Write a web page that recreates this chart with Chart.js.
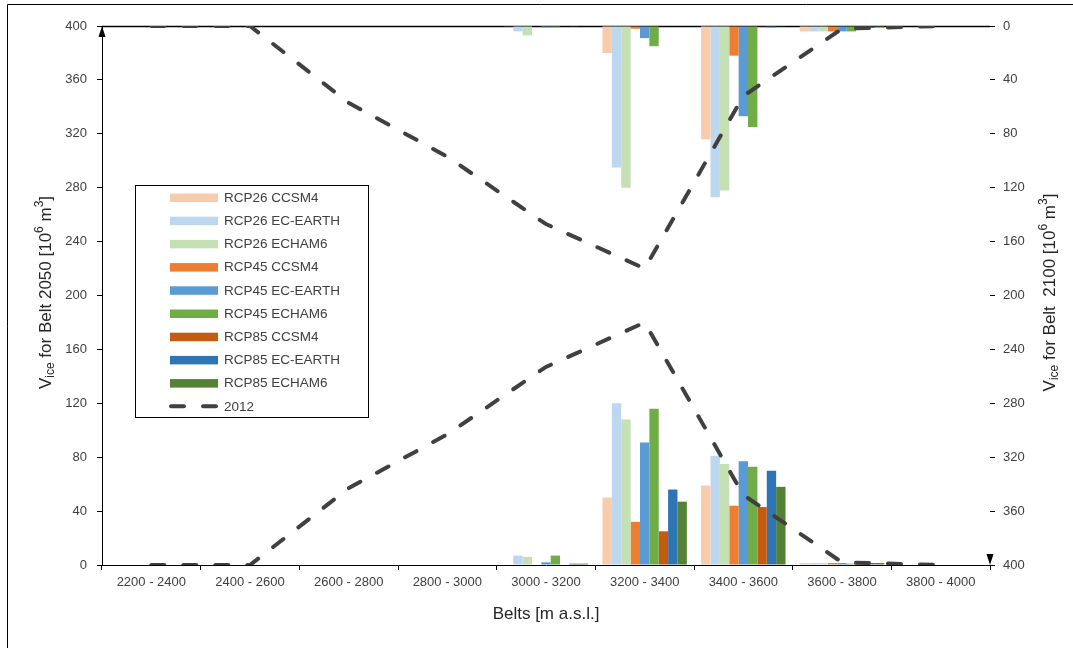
<!DOCTYPE html>
<html><head><meta charset="utf-8">
<script src="https://cdn.jsdelivr.net/npm/chart.js@4.4.1/dist/chart.umd.min.js"></script>
<style>html,body{margin:0;padding:0;background:#fff;}#wrap{width:1073px;height:648px;}</style>
</head><body><div id="wrap"><canvas id="c" width="1073" height="648"></canvas></div>
<script>
// ---- data ----
const belts = ['2200 - 2400','2400 - 2600','2600 - 2800','2800 - 3000','3000 - 3200','3200 - 3400','3400 - 3600','3600 - 3800','3800 - 4000'];
const seriesNames = ['RCP26 CCSM4','RCP26 EC-EARTH','RCP26 ECHAM6','RCP45 CCSM4','RCP45 EC-EARTH','RCP45 ECHAM6','RCP85 CCSM4','RCP85 EC-EARTH','RCP85 ECHAM6'];
const seriesColors = ['#F8CBAD','#BDD7EE','#C5E0B4','#ED7D31','#5B9BD5','#70AD47','#C55A11','#2E75B6','#548235'];

// 2050 volumes (left axis)
const rcp26Ccsm4_2050   = [0,0,0,0,0,50,59,1.5,0];
const rcp26EcEarth_2050 = [0,0,0,0,7,120,81,1.5,0];
const rcp26Echam6_2050  = [0,0,0,0,6,108,75,1.5,0];
const rcp45Ccsm4_2050   = [0,0,0,0,0,32,44,1.5,0];
const rcp45EcEarth_2050 = [0,0,0,0,2,91,77,1.5,0];
const rcp45Echam6_2050  = [0,0,0,0,7,116,73,1,0];
const rcp85Ccsm4_2050   = [0,0,0,0,0,25,43,1,0];
const rcp85EcEarth_2050 = [0,0,0,0,1,56,70,1.5,0];
const rcp85Echam6_2050  = [0,0,0,0,1,47,58,1.5,0];

// 2100 volumes (right, reversed axis)
const rcp26Ccsm4_2100   = [0,0,0,0,0.5,20,84,4,0];
const rcp26EcEarth_2100 = [0,0,0,0,4,105,127,4,0];
const rcp26Echam6_2100  = [0,0,0,0,7,120,122,4,0];
const rcp45Ccsm4_2100   = [0,0,0,0,0,2,22,4,0];
const rcp45EcEarth_2100 = [0,0,0,0,1,9,67,4,0];
const rcp45Echam6_2100  = [0,0,0,0,1,15,75,4,0];
const rcp85Ccsm4_2100   = [0,0,0,0,0,0,0.5,1,0];
const rcp85EcEarth_2100 = [0,0,0,0,0.5,0,1,1.5,0];
const rcp85Echam6_2100  = [0,0,0,0,0,0,0.5,1,0];

// 2012 reference volume
const ice2012 = [0,0,57,97,147,180,52,2,0];

const yMin = 0, yMax = 400, yStep = 40;

// ---- build ----
const v2050 = [rcp26Ccsm4_2050,rcp26EcEarth_2050,rcp26Echam6_2050,rcp45Ccsm4_2050,rcp45EcEarth_2050,rcp45Echam6_2050,rcp85Ccsm4_2050,rcp85EcEarth_2050,rcp85Echam6_2050];
const v2100 = [rcp26Ccsm4_2100,rcp26EcEarth_2100,rcp26Echam6_2100,rcp45Ccsm4_2100,rcp45EcEarth_2100,rcp45Echam6_2100,rcp85Ccsm4_2100,rcp85EcEarth_2100,rcp85Echam6_2100];

const FONT = 'Liberation Sans, Arial, sans-serif';
const TXT = '#404040';
const LINE_COLOR = '#404040';

const datasets = [];
seriesNames.forEach((n,i)=>{
  datasets.push({type:'bar', label:n+' 2050', data:v2050[i], backgroundColor:seriesColors[i], yAxisID:'y', stack:'s'+i,
    categoryPercentage:0.855, barPercentage:1.0, borderWidth:0, order:1});
});
seriesNames.forEach((n,i)=>{
  datasets.push({type:'bar', label:n+' 2100', data:v2100[i], backgroundColor:seriesColors[i], yAxisID:'y2', stack:'s'+i,
    categoryPercentage:0.855, barPercentage:1.0, borderWidth:0, order:1});
});
const lineStyle = {type:'line', borderColor:LINE_COLOR, borderWidth:4, borderDash:[13,19], borderCapStyle:'round',
  pointRadius:0, fill:false, tension:0, order:0};
datasets.push(Object.assign({label:'2012', data:ice2012, yAxisID:'y'}, lineStyle));
datasets.push(Object.assign({label:'2012 (2100 axis)', data:ice2012, yAxisID:'y2'}, lineStyle));

function richText(ctx, parts, cx, cy, rot){
  const base = 17, small = 12;
  ctx.save();
  ctx.translate(cx, cy);
  ctx.rotate(rot);
  let total = 0;
  const w = parts.map(p=>{ctx.font = (p[1]==='n'?base:small)+'px '+FONT; const m = ctx.measureText(p[0]).width; total+=m; return m;});
  let x = -total/2;
  ctx.textBaseline = 'middle';
  ctx.textAlign = 'left';
  ctx.fillStyle = '#262626';
  parts.forEach((p,i)=>{
    ctx.font = (p[1]==='n'?base:small)+'px '+FONT;
    const dy = p[1]==='sub'?5:(p[1]==='sup'?-6:0);
    ctx.fillText(p[0], x, dy);
    x += w[i];
  });
  ctx.restore();
}

const decor = {
  id:'decor',
  beforeDatasetsDraw(chart){
    const {ctx, chartArea:a} = chart;
    ctx.save();
    ctx.strokeStyle = '#000'; ctx.lineWidth = 1.5;
    ctx.beginPath(); ctx.moveTo(a.left, a.top+0.5); ctx.lineTo(a.right, a.top+0.5); ctx.stroke();
    ctx.restore();
  },
  afterDraw(chart){
    const {ctx, chartArea:a} = chart;
    ctx.save();
    ctx.strokeStyle = '#000'; ctx.lineWidth = 1;
    ctx.beginPath(); ctx.moveTo(7.5, 648); ctx.lineTo(7.5, 4.5); ctx.lineTo(1073, 4.5); ctx.stroke();
    ctx.fillStyle = '#000';
    ctx.beginPath(); ctx.moveTo(a.left, a.top); ctx.lineTo(a.left-3.5, a.top+11); ctx.lineTo(a.left+3.5, a.top+11); ctx.closePath(); ctx.fill();
    ctx.beginPath(); ctx.moveTo(a.right, a.bottom); ctx.lineTo(a.right-3.5, a.bottom-11); ctx.lineTo(a.right+3.5, a.bottom-11); ctx.closePath(); ctx.fill();
    const cy = (a.top+a.bottom)/2 - 3;
    richText(ctx, [['V','n'],['ice','sub'],[' for Belt 2050 [10','n'],['6','sup'],[' m','n'],['3','sup'],[']','n']], 46, cy, -Math.PI/2);
    richText(ctx, [['V','n'],['ice','sub'],[' for Belt  2100 [10','n'],['6','sup'],[' m','n'],['3','sup'],[']','n']], 1050, cy, -Math.PI/2);
    ctx.font = '17px '+FONT; ctx.fillStyle = '#262626'; ctx.textAlign='center'; ctx.textBaseline='middle';
    ctx.fillText('Belts [m a.s.l.]', (a.left+a.right)/2, 614);
    const lx = 135, ly = 185, lw = 233, lh = 232;
    ctx.fillStyle = '#fff'; ctx.fillRect(lx, ly, lw, lh);
    ctx.strokeStyle = '#000'; ctx.lineWidth = 1; ctx.strokeRect(lx+0.5, ly+0.5, lw, lh);
    ctx.font = '13.5px '+FONT; ctx.textAlign='left'; ctx.textBaseline='middle';
    const rowH = 23.2, y0 = 197.5;
    seriesNames.forEach((n,i)=>{
      const yy = y0 + i*rowH;
      ctx.fillStyle = seriesColors[i]; ctx.fillRect(170, yy-4, 48, 8.5);
      ctx.fillStyle = '#404040'; ctx.fillText(n, 224, yy+0.5);
    });
    const yl = y0 + 9*rowH;
    ctx.strokeStyle = LINE_COLOR; ctx.lineWidth = 4; ctx.lineCap='round'; ctx.setLineDash([13,19]);
    ctx.beginPath(); ctx.moveTo(171, yl); ctx.lineTo(218, yl); ctx.stroke();
    ctx.setLineDash([]);
    ctx.fillStyle = '#404040'; ctx.fillText('2012', 224, yl+0.5);
    ctx.restore();
  }
};

new Chart(document.getElementById('c'), {
  data:{labels:belts, datasets},
  options:{
    responsive:false, animation:false,
    layout:{padding:{top:26,left:0,right:0,bottom:0}},
    plugins:{legend:{display:false}, tooltip:{enabled:false}},
    scales:{
      x:{type:'category', offset:true,
        grid:{display:true, drawOnChartArea:false, drawTicks:true, tickLength:5, tickColor:'#000', offset:true},
        border:{display:true, color:'#000', width:1},
        ticks:{color:TXT, font:{family:FONT, size:13}, padding:5, maxRotation:0, autoSkip:false},
        afterFit:s=>{s.height=83;}},
      y:{type:'linear', position:'left', min:yMin, max:yMax, stacked:false,
        ticks:{stepSize:yStep, color:TXT, font:{family:FONT, size:13}, padding:10},
        grid:{drawOnChartArea:false, drawTicks:true, tickLength:5, tickColor:'#000'},
        border:{display:true, color:'#000', width:1},
        afterFit:s=>{s.width=102;}},
      y2:{type:'linear', position:'right', reverse:true, min:yMin, max:yMax, stacked:false,
        ticks:{stepSize:yStep, color:TXT, font:{family:FONT, size:13}, padding:8},
        grid:{drawOnChartArea:false, drawTicks:true, tickLength:5, tickColor:'#000'},
        border:{display:false},
        afterFit:s=>{s.width=83;}}
    }
  },
  plugins:[decor]
});
</script></body></html>
